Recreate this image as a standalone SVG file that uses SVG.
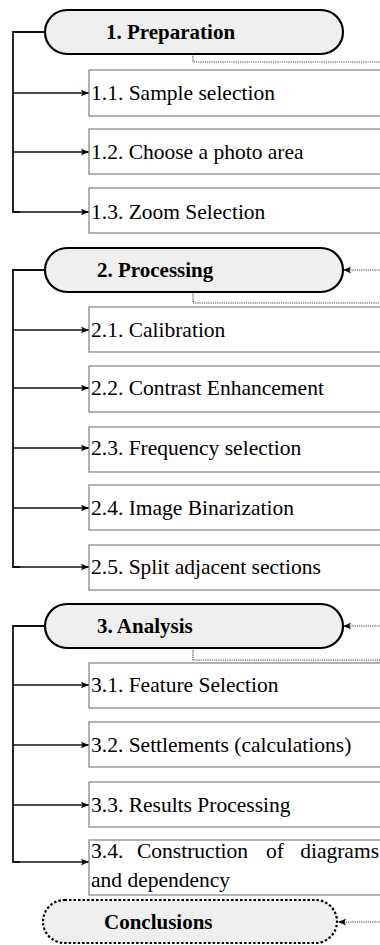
<svg xmlns="http://www.w3.org/2000/svg" width="380" height="945" viewBox="0 0 380 945">
<defs>
<marker id="ah" viewBox="0 0 10 10" refX="10" refY="5" markerWidth="8" markerHeight="8" markerUnits="userSpaceOnUse" orient="auto">
<path d="M0,1 L10,5 L0,9 L2,5 Z" fill="#000"/>
</marker>
<style>
.pill{fill:#efefef;stroke:#000;stroke-width:2.2}
.pilld{fill:#efefef;stroke:#000;stroke-width:2.2;stroke-dasharray:2.5,2}
.box{fill:#fff;stroke:#808080;stroke-width:1.2}
.pt{font-family:"Liberation Serif","Times New Roman",serif;font-weight:bold;font-size:21px;fill:#000}
.bt{font-family:"Liberation Serif","Times New Roman",serif;font-size:21.5px;fill:#000}
.ln{fill:none;stroke:#111;stroke-width:1.8}
.arr{fill:none;stroke:#111;stroke-width:1.6;marker-end:url(#ah)}
.dot{fill:none;stroke:#444;stroke-width:1.2;stroke-dasharray:1.2,1}
.darr{fill:none;stroke:#444;stroke-width:1.2;stroke-dasharray:1.2,1;marker-end:url(#ah)}
</style>
</defs>
<rect width="380" height="945" fill="#fff"/>

<g id="connectors">
<polyline class="ln" points="45,32 13,32 13,212 20,212"/>
<line class="arr" x1="13" y1="93" x2="89" y2="93"/>
<line class="arr" x1="13" y1="152" x2="89" y2="152"/>
<line class="arr" x1="13" y1="212" x2="89" y2="212"/>
<polyline class="dot" points="193,54 193,62 380,62"/>

<polyline class="ln" points="45,270 13,270 13,567 20,567"/>
<line class="arr" x1="13" y1="330" x2="89" y2="330"/>
<line class="arr" x1="13" y1="388" x2="89" y2="388"/>
<line class="arr" x1="13" y1="448" x2="89" y2="448"/>
<line class="arr" x1="13" y1="508" x2="89" y2="508"/>
<line class="arr" x1="13" y1="567" x2="89" y2="567"/>
<line class="darr" x1="380" y1="270" x2="343" y2="270"/>
<polyline class="dot" points="193,292 193,303 380,303"/>

<polyline class="ln" points="45,626 13,626 13,862 20,862"/>
<line class="arr" x1="13" y1="685" x2="89" y2="685"/>
<line class="arr" x1="13" y1="745" x2="89" y2="745"/>
<line class="arr" x1="13" y1="805" x2="89" y2="805"/>
<line class="arr" x1="13" y1="862" x2="89" y2="862"/>
<line class="darr" x1="380" y1="626" x2="343" y2="626"/>
<polyline class="dot" points="193,648 193,660 380,660"/>

<line class="darr" x1="380" y1="922" x2="338" y2="922"/>
</g>

<g id="n1"><rect class="pill" x="45" y="10" width="298" height="44" rx="22"/><text class="pt" x="106" y="39">1. Preparation</text></g>
<g id="n11"><rect class="box" x="89" y="70" width="300" height="46"/><text class="bt" x="91" y="100">1.1. Sample selection</text></g>
<g id="n12"><rect class="box" x="89" y="129" width="300" height="45"/><text class="bt" x="91" y="159">1.2. Choose a photo area</text></g>
<g id="n13"><rect class="box" x="89" y="188" width="300" height="45"/><text class="bt" x="91" y="219">1.3. Zoom Selection</text></g>

<g id="n2"><rect class="pill" x="45" y="248" width="298" height="44" rx="22"/><text class="pt" x="97" y="277">2. Processing</text></g>
<g id="n21"><rect class="box" x="89" y="307" width="300" height="45"/><text class="bt" x="91" y="337">2.1. Calibration</text></g>
<g id="n22"><rect class="box" x="89" y="366" width="300" height="46"/><text class="bt" x="91" y="395">2.2. Contrast Enhancement</text></g>
<g id="n23"><rect class="box" x="89" y="427" width="300" height="45"/><text class="bt" x="91" y="455">2.3. Frequency selection</text></g>
<g id="n24"><rect class="box" x="89" y="485" width="300" height="45"/><text class="bt" x="91" y="515">2.4. Image Binarization</text></g>
<g id="n25"><rect class="box" x="89" y="545" width="300" height="45"/><text class="bt" x="91" y="574">2.5. Split adjacent sections</text></g>

<g id="n3"><rect class="pill" x="45" y="604" width="298" height="44" rx="22"/><text class="pt" x="97" y="633">3. Analysis</text></g>
<g id="n31"><rect class="box" x="89" y="663" width="300" height="45"/><text class="bt" x="91" y="692">3.1. Feature Selection</text></g>
<g id="n32"><rect class="box" x="89" y="722" width="300" height="45"/><text class="bt" x="91" y="752">3.2. Settlements (calculations)</text></g>
<g id="n33"><rect class="box" x="89" y="782" width="300" height="45"/><text class="bt" x="91" y="812">3.3. Results Processing</text></g>
<g id="n34"><rect class="box" x="89" y="840" width="300" height="55"/><text class="bt" x="91" y="858">3.4.</text><text class="bt" x="137" y="858">Construction</text><text class="bt" x="266" y="858">of</text><text class="bt" x="379" y="858" text-anchor="end">diagrams</text><text class="bt" x="91" y="887">and dependency</text></g>

<g id="n4"><rect class="pilld" x="43" y="900" width="294" height="43" rx="21.5"/><text class="pt" x="104" y="929">Conclusions</text></g>
</svg>
